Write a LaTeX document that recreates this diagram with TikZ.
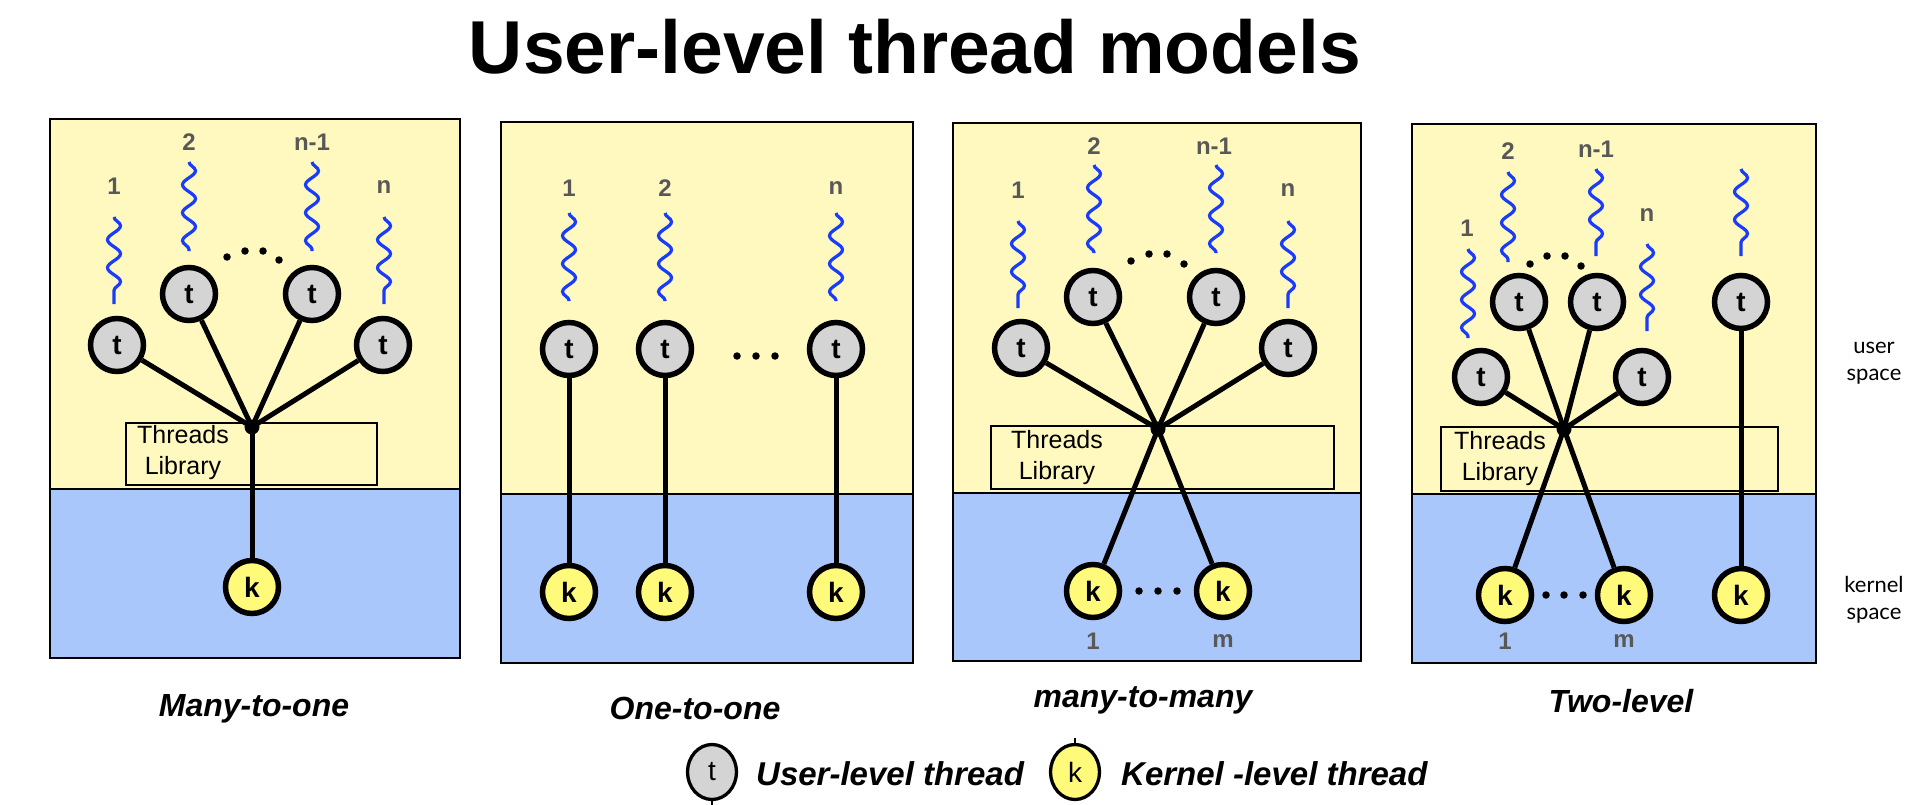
\documentclass[tikz,border=0pt]{standalone}
\usepackage{fontspec}
\setmainfont{Liberation Sans}
\newfontfamily\latofont{Lato}
\usetikzlibrary{decorations.pathmorphing,shapes.geometric}
\definecolor{ubg}{RGB}{255,249,192}
\definecolor{kbg}{RGB}{170,199,252}
\definecolor{tgray}{RGB}{212,212,212}
\definecolor{kyel}{RGB}{255,250,122}
\definecolor{wblue}{RGB}{25,60,250}
\definecolor{lgray}{RGB}{88,88,88}
\tikzset{
  panelframe/.style={draw=black, line width=2.5pt},
  divline/.style={draw=black, line width=2pt},
  tnode/.style={circle, draw=black, line width=5.5pt, fill=tgray, minimum size=53pt, inner sep=0pt, font=\fontsize{28}{28}\selectfont\bfseries},
  knode/.style={circle, draw=black, line width=5.5pt, fill=kyel, minimum size=53pt, inner sep=0pt, font=\fontsize{28}{28}\selectfont\bfseries},
  link/.style={draw=black, line width=5pt},
  hubdot/.style={circle, fill=black, minimum size=15pt, inner sep=0pt},
  wave/.style={draw=wblue, line width=3.2pt, decorate, decoration={snake, amplitude=6.5pt, segment length=28pt}},
  num/.style={text=lgray, font=\fontsize{24}{24}\selectfont\bfseries, inner sep=0pt},
  tlbox/.style={draw=black, line width=2.5pt},
  tltext/.style={align=center, inner sep=0pt, font=\fontsize{25}{31}\selectfont},
  bdot/.style={circle, fill=black, minimum size=7.5pt, inner sep=0pt},
  captext/.style={font=\fontsize{32}{32}\selectfont\bfseries\itshape, anchor=base, inner sep=0pt},
  legtext/.style={font=\fontsize{33}{33}\selectfont\bfseries\itshape, anchor=base west, inner sep=0pt},
  spacetext/.style={align=center, inner sep=0pt, font=\latofont\fontsize{22}{27}\selectfont},
  legnode/.style={ellipse, draw=black, line width=3.3pt, inner sep=0pt, minimum width=49pt, minimum height=55pt, font=\fontsize{28}{28}\selectfont},
}
\begin{document}
\begin{tikzpicture}[x=1pt,y=-1pt]
\useasboundingbox (0,0) rectangle (1932,805);
\fill[white] (0,0) rectangle (1932,805);

% title
\node[anchor=base, inner sep=0pt, font=\fontsize{75}{75}\selectfont\bfseries] (title) at (915,74) {User-level thread models};

% ================= Panel 1: Many-to-one
\fill[ubg] (50,119) rectangle (460,489);
\fill[kbg] (50,489) rectangle (460,658);
\draw[divline] (50,489) -- (460,489);
\draw[panelframe] (50,119) rectangle (460,658);
\draw[tlbox] (126,423) rectangle (377,485);
\node[tltext] (tl1) at (183,453) {Threads\\Library};
\draw[wave] (114,217) -- (114,304);
\draw[wave] (189,162) -- (189,251);
\draw[wave] (312,162) -- (312,251);
\draw[wave] (384,217) -- (384,304);
\node[num] (a1) at (114,186) {1};
\node[num] (a2) at (189,142) {2};
\node[num] (a3) at (312,142) {n-1};
\node[num] (a4) at (384,187) {n};
\node[bdot] (ad1) at (227,257) {};
\node[bdot] (ad2) at (245,251) {};
\node[bdot] (ad3) at (263,251) {};
\node[bdot] (ad4) at (279,260) {};
\node[tnode] (at1) at (117,345) {t};
\node[tnode] (at2) at (189,294) {t};
\node[tnode] (at3) at (312,294) {t};
\node[tnode] (at4) at (383,345) {t};
\node[knode] (ak1) at (252,587) {k};
\node[hubdot] (ah) at (252,427) {};
\draw[link] (at1) -- (ah.center);
\draw[link] (at2) -- (ah.center);
\draw[link] (at3) -- (ah.center);
\draw[link] (at4) -- (ah.center);
\draw[link] (ah.center) -- (ak1);
\node[captext] (cap1) at (254,716) {Many-to-one};

% ================= Panel 2: One-to-one
\fill[ubg] (501,122) rectangle (913,494);
\fill[kbg] (501,494) rectangle (913,663);
\draw[divline] (501,494) -- (913,494);
\draw[panelframe] (501,122) rectangle (913,663);
\draw[wave] (569,213) -- (569,301);
\draw[wave] (665,213) -- (665,301);
\draw[wave] (836,213) -- (836,301);
\node[num] (b1) at (569,188) {1};
\node[num] (b2) at (665,188) {2};
\node[num] (b3) at (836,188) {n};
\node[bdot] (bd1) at (737,356) {};
\node[bdot] (bd2) at (756,356) {};
\node[bdot] (bd3) at (775,356) {};
\node[tnode] (bt1) at (569,349) {t};
\node[tnode] (bt2) at (665,349) {t};
\node[tnode] (bt3) at (836,349) {t};
\node[knode] (bk1) at (569,592) {k};
\node[knode] (bk2) at (665,592) {k};
\node[knode] (bk3) at (836,592) {k};
\draw[link] (bt1) -- (bk1);
\draw[link] (bt2) -- (bk2);
\draw[link] (bt3) -- (bk3);
\node[captext] (cap2) at (695,719) {One-to-one};

% ================= Panel 3: many-to-many
\fill[ubg] (953,123) rectangle (1361,493);
\fill[kbg] (953,493) rectangle (1361,661);
\draw[divline] (953,493) -- (1361,493);
\draw[panelframe] (953,123) rectangle (1361,661);
\draw[tlbox] (991,426) rectangle (1334,489);
\node[tltext] (tl3) at (1057,458) {Threads\\Library};
\draw[wave] (1018,221) -- (1018,308);
\draw[wave] (1094,165) -- (1094,253);
\draw[wave] (1216,165) -- (1216,253);
\draw[wave] (1288,221) -- (1288,308);
\node[num] (c1) at (1018,190) {1};
\node[num] (c2) at (1094,146) {2};
\node[num] (c3) at (1214,146) {n-1};
\node[num] (c4) at (1288,190) {n};
\node[bdot] (cd1) at (1131,261) {};
\node[bdot] (cd2) at (1149,254) {};
\node[bdot] (cd3) at (1167,254) {};
\node[bdot] (cd4) at (1184,264) {};
\node[tnode] (ct1) at (1021,348) {t};
\node[tnode] (ct2) at (1093,297) {t};
\node[tnode] (ct3) at (1216,297) {t};
\node[tnode] (ct4) at (1288,348) {t};
\node[knode] (ck1) at (1093,591) {k};
\node[knode] (ck2) at (1223,591) {k};
\node[bdot] (ce1) at (1139,591) {};
\node[bdot] (ce2) at (1158,591) {};
\node[bdot] (ce3) at (1177,591) {};
\node[num] (cm1) at (1093,641) {1};
\node[num] (cm2) at (1223,641) {m};
\node[hubdot] (ch) at (1158,429) {};
\draw[link] (ct1) -- (ch.center);
\draw[link] (ct2) -- (ch.center);
\draw[link] (ct3) -- (ch.center);
\draw[link] (ct4) -- (ch.center);
\draw[link] (ch.center) -- (ck1);
\draw[link] (ch.center) -- (ck2);
\node[captext] (cap3) at (1143,707) {many-to-many};

% ================= Panel 4: Two-level
\fill[ubg] (1412,124) rectangle (1816,494);
\fill[kbg] (1412,494) rectangle (1816,663);
\draw[divline] (1412,494) -- (1816,494);
\draw[panelframe] (1412,124) rectangle (1816,663);
\draw[tlbox] (1441,427) rectangle (1778,491);
\node[tltext] (tl4) at (1500,459) {Threads\\Library};
\draw[wave] (1468,249) -- (1468,338);
\draw[wave] (1508,172) -- (1508,262);
\draw[wave] (1596,169) -- (1596,256);
\draw[wave] (1647,244) -- (1647,331);
\draw[wave] (1741,169) -- (1741,256);
\node[num] (d1) at (1467,228) {1};
\node[num] (d2) at (1508,151) {2};
\node[num] (d3) at (1596,149) {n-1};
\node[num] (d4) at (1647,215) {n};
\node[bdot] (dd1) at (1530,264) {};
\node[bdot] (dd2) at (1547,256) {};
\node[bdot] (dd3) at (1565,256) {};
\node[bdot] (dd4) at (1581,266) {};
\node[tnode] (dt1) at (1481,377) {t};
\node[tnode] (dt2) at (1519,302) {t};
\node[tnode] (dt3) at (1597,302) {t};
\node[tnode] (dt4) at (1642,377) {t};
\node[tnode] (dt5) at (1741,302) {t};
\node[knode] (dk1) at (1505,595) {k};
\node[knode] (dk2) at (1624,595) {k};
\node[knode] (dk3) at (1741,595) {k};
\node[bdot] (de1) at (1546,595) {};
\node[bdot] (de2) at (1564,595) {};
\node[bdot] (de3) at (1583,595) {};
\node[num] (dm1) at (1505,641) {1};
\node[num] (dm2) at (1624,641) {m};
\node[hubdot] (dh) at (1564,429) {};
\draw[link] (dt1) -- (dh.center);
\draw[link] (dt2) -- (dh.center);
\draw[link] (dt3) -- (dh.center);
\draw[link] (dt4) -- (dh.center);
\draw[link] (dh.center) -- (dk1);
\draw[link] (dh.center) -- (dk2);
\draw[link] (dt5) -- (dk3);
\node[captext] (cap4) at (1621,712) {Two-level};

% side labels
\node[spacetext] (us) at (1874,363) {user\\space};
\node[spacetext] (ks) at (1874,600) {kernel\\space};

% legend
\node[legnode, fill=tgray] (lt) at (712,772) {t};
\draw[line width=2pt] (lt.south) -- ++(0,4);
\node[legtext] (ltx) at (756,785) {User-level thread};
\node[legnode, fill=kyel] (lk) at (1075,772) {k};
\draw[line width=2pt] (lk.north) -- ++(0,-5);
\node[legtext] (lkx) at (1121,785) {Kernel -level thread};
\end{tikzpicture}
\end{document}
